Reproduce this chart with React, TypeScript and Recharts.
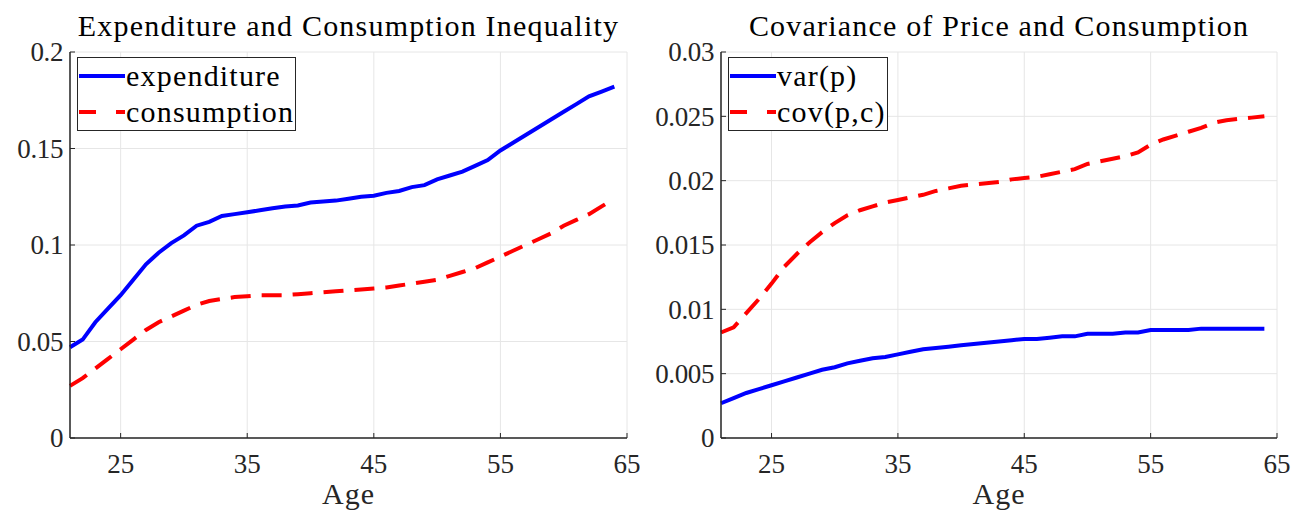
import { CartesianGrid, Legend, Line, LineChart, XAxis, YAxis } from 'recharts';

const ages = [
  21, 22, 23, 24, 25, 26, 27, 28, 29, 30, 31, 32, 33, 34, 35, 36, 37, 38, 39, 40, 41, 42,
  43, 44, 45, 46, 47, 48, 49, 50, 51, 52, 53, 54, 55, 56, 57, 58, 59, 60, 61, 62, 63, 64
];

const expenditure = [
  0.047, 0.051, 0.06, 0.067, 0.074, 0.082, 0.09, 0.096, 0.101, 0.105, 0.11, 0.112, 0.115,
  0.116, 0.117, 0.118, 0.119, 0.12, 0.1205, 0.122, 0.1225, 0.123, 0.124, 0.125, 0.1255,
  0.127, 0.128, 0.13, 0.131, 0.134, 0.136, 0.138, 0.141, 0.144, 0.149, 0.153, 0.157, 0.161,
  0.165, 0.169, 0.173, 0.177, 0.1795, 0.182
];

const consumption = [
  0.027, 0.031, 0.036, 0.041, 0.046, 0.051, 0.056, 0.06, 0.063, 0.066, 0.069, 0.071, 0.072,
  0.073, 0.0735, 0.074, 0.074, 0.074, 0.0745, 0.075, 0.0755, 0.076, 0.0765, 0.077, 0.0775,
  0.078, 0.079, 0.08, 0.081, 0.082, 0.084, 0.086, 0.088, 0.091, 0.094, 0.097, 0.1, 0.103,
  0.106, 0.11, 0.113, 0.116, 0.12, 0.124
];

const varP = [
  0.0027, 0.0031, 0.0035, 0.0038, 0.0041, 0.0044, 0.0047, 0.005, 0.0053, 0.0055, 0.0058,
  0.006, 0.0062, 0.0063, 0.0065, 0.0067, 0.0069, 0.007, 0.0071, 0.0072, 0.0073, 0.0074,
  0.0075, 0.0076, 0.0077, 0.0077, 0.0078, 0.0079, 0.0079, 0.0081, 0.0081, 0.0081, 0.0082,
  0.0082, 0.0084, 0.0084, 0.0084, 0.0084, 0.0085, 0.0085, 0.0085, 0.0085, 0.0085, 0.0085
];

const covPC = [
  0.0082, 0.0086, 0.0097, 0.0108, 0.012, 0.0133, 0.0143, 0.0152, 0.016, 0.0167, 0.0173,
  0.0177, 0.018, 0.0183, 0.0185, 0.0187, 0.0189, 0.0192, 0.0194, 0.0196, 0.0197, 0.0198,
  0.0199, 0.0201, 0.0202, 0.0203, 0.0205, 0.0207, 0.0209, 0.0213, 0.0215, 0.0217, 0.0219,
  0.0222, 0.0228, 0.0232, 0.0235, 0.0238, 0.0241, 0.0245, 0.0247, 0.0248, 0.0249, 0.025
];

const xTicks = [25, 35, 45, 55, 65];
const leftTicks = [0, 0.05, 0.1, 0.15, 0.2];
const rightTicks = [0, 0.005, 0.01, 0.015, 0.02, 0.025, 0.03];

const leftData = ages.map((age, i) => ({ age, expenditure: expenditure[i], consumption: consumption[i] }));
const rightData = ages.map((age, i) => ({ age, varp: varP[i], covpc: covPC[i] }));

const font = '"Liberation Serif", "Times New Roman", serif';
const ink = '#262626';
const blue = '#0000ff';
const red = '#ff0000';

const TICK_SIZE = 6;
const X_MARGIN = 10;
const Y_MARGIN = 1;

// matlab style: labels outside, short tick marks pointing into the plot
function XTick({ x, y, payload }: any) {
  const axisY = y - TICK_SIZE - X_MARGIN;
  return (
    <g>
      <line x1={x} x2={x} y1={axisY} y2={axisY - 5} stroke={ink} strokeWidth={1} />
      <text x={x} y={y} dy="0.72em" textAnchor="middle" fontFamily={font} fontSize={27} fill={ink}>
        {payload.value}
      </text>
    </g>
  );
}

function YTick({ x, y, payload }: any) {
  const axisX = x + TICK_SIZE + Y_MARGIN;
  return (
    <g>
      <line x1={axisX} x2={axisX + 5} y1={y} y2={y} stroke={ink} strokeWidth={1} />
      <text
        x={x}
        y={y}
        dy="0.35em"
        textAnchor="end"
        fontFamily={font}
        fontSize={27}
        letterSpacing={-0.4}
        fill={ink}
      >
        {String(payload.value)}
      </text>
    </g>
  );
}

function LegendBox({ payload, order }: any) {
  const items = [...(payload || [])].sort((a: any, b: any) => order.indexOf(a.value) - order.indexOf(b.value));
  return (
    <div
      style={{
        border: `1px solid ${ink}`,
        background: '#fff',
        padding: '0 1px 0 1px',
        fontFamily: font,
        fontSize: 30,
        letterSpacing: 1.2,
        color: '#000',
        lineHeight: '36px',
        whiteSpace: 'nowrap'
      }}
    >
      {items.map((p: any) => (
        <div key={p.value} style={{ display: 'flex', alignItems: 'center' }}>
          <svg width={46} height={10} style={{ marginRight: 1, flex: 'none' }}>
            <line
              x1={0}
              y1={5}
              x2={46}
              y2={5}
              stroke={p.color}
              strokeWidth={4}
              strokeDasharray={p.payload?.strokeDasharray ? '17 20' : undefined}
            />
          </svg>
          <span>{p.value}</span>
        </div>
      ))}
    </div>
  );
}

function Panel({
  title,
  data,
  keys,
  names,
  yTicks,
  yMax,
  yWidth,
  width,
  marginRight
}: {
  title: string;
  data: any[];
  keys: [string, string];
  names: [string, string];
  yTicks: number[];
  yMax: number;
  yWidth: number;
  width: number;
  marginRight: number;
}) {
  const plotLeft = yWidth;
  const plotRight = width - marginRight;
  return (
    <div style={{ position: 'relative', width, height: 510 }}>
      <div
        style={{
          position: 'absolute',
          top: 9,
          left: plotLeft - 40,
          width: plotRight - plotLeft + 80,
          textAlign: 'center',
          fontFamily: font,
          fontSize: 30,
          letterSpacing: 1.2,
          color: '#000',
          zIndex: 2,
          whiteSpace: 'nowrap'
        }}
      >
        {title}
      </div>
      <LineChart width={width} height={510} data={data} margin={{ top: 52, right: marginRight, bottom: 0, left: 0 }}>
        <CartesianGrid stroke="#e6e6e6" strokeWidth={1} />
        <XAxis
          dataKey="age"
          type="number"
          domain={[21, 65]}
          ticks={xTicks}
          tick={<XTick />}
          tickLine={false}
          tickSize={TICK_SIZE}
          tickMargin={X_MARGIN}
          axisLine={{ stroke: ink, strokeWidth: 1.5 }}
          height={72}
          label={{
            value: 'Age',
            position: 'insideBottom',
            offset: 6,
            style: { fontFamily: font, fontSize: 30, letterSpacing: 1, fill: ink }
          }}
        />
        <YAxis
          type="number"
          domain={[0, yMax]}
          ticks={yTicks}
          tick={<YTick />}
          tickLine={false}
          tickSize={TICK_SIZE}
          tickMargin={Y_MARGIN}
          axisLine={{ stroke: ink, strokeWidth: 1.5 }}
          width={yWidth}
        />
        <Legend
          layout="vertical"
          align="center"
          verticalAlign="middle"
          wrapperStyle={{ top: 57, left: plotLeft + 7, width: 'auto', height: 'auto' }}
          content={<LegendBox order={names} />}
        />
        <Line
          dataKey={keys[0]}
          name={names[0]}
          stroke={blue}
          strokeWidth={4}
          dot={false}
          type="linear"
          isAnimationActive={false}
        />
        <Line
          dataKey={keys[1]}
          name={names[1]}
          stroke={red}
          strokeWidth={4}
          strokeDasharray="20 11"
          dot={false}
          type="linear"
          isAnimationActive={false}
        />
      </LineChart>
    </div>
  );
}

export default function App() {
  return (
    <div style={{ position: 'absolute', left: 0, top: 0, width: 1293, height: 510, background: '#fff', display: 'flex' }}>
      <Panel
        title="Expenditure and Consumption Inequality"
        data={leftData}
        keys={['expenditure', 'consumption']}
        names={['expenditure', 'consumption']}
        yTicks={leftTicks}
        yMax={0.2}
        yWidth={70}
        width={640}
        marginRight={13}
      />
      <div style={{ width: 5 }} />
      <Panel
        title="Covariance of Price and Consumption"
        data={rightData}
        keys={['varp', 'covpc']}
        names={['var(p)', 'cov(p,c)']}
        yTicks={rightTicks}
        yMax={0.03}
        yWidth={76}
        width={648}
        marginRight={16}
      />
    </div>
  );
}
